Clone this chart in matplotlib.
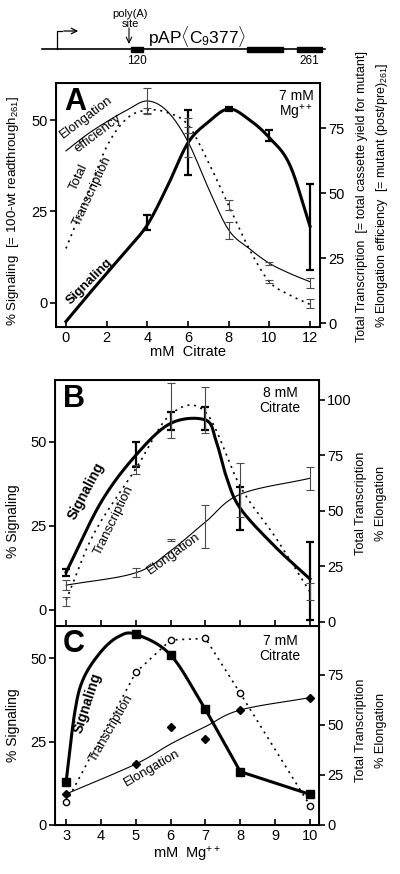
import numpy as np
import matplotlib
matplotlib.use('Agg')
import matplotlib.pyplot as plt
from matplotlib.patches import Rectangle

plt.rcParams['font.family'] = ['Liberation Sans', 'DejaVu Sans']
plt.rcParams['mathtext.fontset'] = 'custom'
plt.rcParams['mathtext.rm'] = 'Liberation Sans'
plt.rcParams['mathtext.it'] = 'Liberation Sans:italic'
plt.rcParams['mathtext.bf'] = 'Liberation Sans:bold'

# ---------------- data ----------------
# Panel A (x = mM citrate, 7 mM Mg++)
citrate = [0, 1, 2, 3, 4, 5, 6, 7, 8, 9, 10, 11, 12]
a_signal = [-5.2, 1.5, 8.0, 14.5, 21.3, 32.0, 43.8, 49.5, 53.1, 50.2, 45.2, 37.8, 20.9]
a_elong = [66.3, 72.4, 77.5, 82.0, 85.5, 81.4, 69.8, 52.0, 35.9, 28.8, 23.1, 19.2, 16.0]
a_trans = [28.8, 48.0, 67.9, 78.8, 82.0, 81.0, 76.3, 62.0, 45.3, 28.8, 16.0, 10.9, 7.3]
a_err_x = [4, 6, 8, 10, 12]
a_signal_lo = [20.0, 35.1, 52.6, 44.2, 9.0]
a_signal_hi = [23.9, 52.7, 53.6, 47.4, 32.5]
a_elong_lo = [80.8, 64.1, 32.4, 22.6, 13.7]
a_elong_hi = [90.6, 75.6, 39.0, 23.6, 17.3]
a_trans_lo = [80.5, 73.0, 43.6, 15.4, 5.8]
a_trans_hi = [82.7, 79.0, 47.4, 16.6, 9.3]

# Panel B (x = mM Mg++, 8 mM citrate)
mg = [3, 5, 6, 7, 8, 10]
b_sig_curve_x = [3, 4, 5, 6, 7, 7.3, 7.6, 8, 9, 10]
b_sig_curve = [11.2, 32.0, 46.0, 55.5, 56.5, 50.5, 39.6, 30.2, 18.8, 9.2]
b_signal = [11.2, 46.0, 55.9, 57.0, 30.2, 9.2]
b_signal_lo = [10.2, 42.6, 53.5, 53.5, 23.8, -3.0]
b_signal_hi = [12.2, 50.0, 58.9, 60.4, 36.6, 20.3]
b_tr_curve_x = [3, 3.8, 5, 6, 7, 8, 9, 10]
b_tr_curve = [9.8, 39.8, 69.0, 93.5, 94.5, 61.0, 38.3, 13.5]
b_trans = [9.2, 68.8, 95.0, 95.5, 13.5]
b_trans_x = [3, 5, 6, 7, 10]
b_trans_lo = [7.1, 66.6, 82.7, 85.0, 9.8]
b_trans_hi = [11.3, 70.7, 107.5, 106.0, 17.3]
b_el_curve = [16.5, 22.1, 32.0, 45.0, 57.5, 64.7]
b_elong = [16.5, 22.1, 36.8, 43.0, 59.4, 64.7]
b_elong_lo = [14.3, 20.0, 36.5, 33.1, 47.4, 59.4]
b_elong_hi = [18.8, 24.1, 37.1, 52.6, 71.4, 69.9]

# Panel C (x = mM Mg++, 7 mM citrate)
c_signal = [13.0, 57.2, 51.0, 34.7, 16.0, 9.2]
c_sig_curve_x = [3, 3.25, 3.5, 4, 4.5, 5, 6, 7]
c_sig_curve = [13.0, 34.0, 44.0, 52.0, 56.5, 57.2, 51.0, 34.7]
c_trans = [11.3, 76.3, 92.5, 93.3, 65.8, 9.7]
c_elong = [15.5, 30.5, 48.8, 42.8, 57.5, 63.7]
c_elong_fit = [15.5, 30.5, 40.5, 49.2, 57.5, 63.7]


def smooth(x, y, n=20):
    P = np.column_stack([np.asarray(x, float), np.asarray(y, float)])
    P = np.vstack([2 * P[0] - P[1], P, 2 * P[-1] - P[-2]])
    out = []
    t = np.linspace(0, 1, n, endpoint=False)[:, None]
    for i in range(1, len(P) - 2):
        p0, p1, p2, p3 = P[i - 1], P[i], P[i + 1], P[i + 2]
        seg = 0.5 * ((2 * p1) + (-p0 + p2) * t + (2 * p0 - 5 * p1 + 4 * p2 - p3) * t ** 2
                     + (-p0 + 3 * p1 - 3 * p2 + p3) * t ** 3)
        out.append(seg)
    out.append(P[-2][None, :])
    pts = np.vstack(out)
    return pts[:, 0], pts[:, 1]


def ebar(ax, x, lo, hi, color='black', lw=1.6, cap=2.8, z=3):
    lo = np.asarray(lo); hi = np.asarray(hi)
    c = (lo + hi) / 2
    ax.errorbar(x, c, yerr=[c - lo, hi - c], fmt='none', ecolor=color,
                elinewidth=lw, capsize=cap, capthick=lw, zorder=z)


THICK = 2.2
THIN = 0.8
DOT = (0, (1.2, 2.8))
GRAY = '#4a4a4a'

fig = plt.figure(figsize=(4.0, 8.74), dpi=100)
H = 874.0


def axrect(l, r, t, b):
    return [l / 400, 1 - b / H, (r - l) / 400, (b - t) / H]


def style(ax, tw):
    for s in ax.spines.values():
        s.set_linewidth(1.4)
    ax.tick_params(axis='x', direction='in', length=4, width=1.2, labelsize=10.5, pad=3)
    ax.tick_params(axis='y', direction='out', length=4, width=1.2, labelsize=10.5, pad=2)
    tw.tick_params(axis='y', direction='out', length=4, width=1.2, labelsize=10.5, pad=2)


# ---------------- schematic ----------------
ax0 = fig.add_axes([0, 1 - 75 / H, 1, 75 / H])
ax0.set_xlim(0, 400)
ax0.set_ylim(75, 0)
ax0.axis('off')
ax0.plot([42, 325], [49, 49], color='black', lw=1.2)
for x0, w in [(131, 12), (247, 36), (297, 25)]:
    ax0.add_patch(Rectangle((x0, 46.6), w, 5.0, color='black'))
ax0.plot([57, 57, 62], [49, 31, 31], color='black', lw=0.9)
ax0.annotate('', xy=(81, 31), xytext=(61, 31),
             arrowprops=dict(arrowstyle='->', lw=0.9, color='black'))
ax0.annotate('', xy=(129, 44), xytext=(129, 28),
             arrowprops=dict(arrowstyle='->', lw=0.8, color='black', shrinkA=0, shrinkB=0))
ax0.text(130, 19, 'poly(A)\nsite', ha='center', va='center', fontsize=8, linespacing=0.95)
ax0.text(137, 55, '120', ha='center', va='top', fontsize=8.5)
ax0.text(309, 55, '261', ha='center', va='top', fontsize=8.5)
ax0.text(197, 36, r'pAP$\langle$C$_9$377$\rangle$', ha='center', va='center', fontsize=12.5)

# ---------------- Panel A ----------------
axA = fig.add_axes(axrect(56, 320, 83, 327))
twA = axA.twinx()
style(axA, twA)
axA.set_xlim(-0.49, 12.49)
axA.set_ylim(-6.7, 60.2)
twA.set_ylim(-1.4, 92.4)
axA.set_xticks([0, 2, 4, 6, 8, 10, 12])
axA.set_yticks([0, 25, 50])
twA.set_yticks([0, 25, 50, 75])

xs, ys = smooth(citrate, a_signal)
axA.plot(xs, ys, color='black', lw=THICK, zorder=4)
ebar(axA, a_err_x, a_signal_lo, a_signal_hi)
xs, ys = smooth(citrate, a_elong)
twA.plot(xs, ys, color='black', lw=THIN)
xs, ys = smooth(citrate, a_trans)
twA.plot(xs, ys, color='black', lw=1.2, linestyle=DOT)
ebar(twA, a_err_x, a_elong_lo, a_elong_hi, color=GRAY, lw=0.8, cap=2.8)
ebar(twA, a_err_x, a_trans_lo, a_trans_hi, color=GRAY, lw=0.8, cap=2.8)

axA.text(0.03, 0.985, 'A', transform=axA.transAxes, fontsize=22, fontweight='bold', va='top', ha='left')
axA.text(0.975, 0.975, '7 mM\nMg$^{++}$', transform=axA.transAxes, fontsize=10, va='top', ha='right',
         linespacing=1.0)
axA.text(1.02, 50.9, 'Elongation', rotation=37, fontsize=9.5, ha='center', va='center')
axA.text(1.55, 46.2, 'efficiency', rotation=37, fontsize=9.5, ha='center', va='center')
axA.text(0.62, 34.5, 'Total', rotation=65, fontsize=9.5, ha='center', va='center')
axA.text(1.30, 30.5, 'Transcription', rotation=65, fontsize=9.5, ha='center', va='center')
axA.text(1.18, 5.8, 'Signaling', rotation=45, fontsize=9.5, fontweight='bold', ha='center', va='center')
axA.set_xlabel('mM  Citrate', fontsize=10.5, labelpad=0)
fig.text(13 / 400, 1 - 211 / H, r'% Signaling  [= 100-wt readthrough$_{261}$]', rotation=90,
         fontsize=9.6, ha='center', va='center')
fig.text(362 / 400, 1 - 196 / H, 'Total Transcription  [= total cassette yield for mutant]',
         rotation=90, fontsize=9.0, ha='center', va='center')
fig.text(382 / 400, 1 - 195 / H, r'% Elongation efficiency  [= mutant (post/pre)$_{261}$]',
         rotation=90, fontsize=9.0, ha='center', va='center')

# ---------------- Panel B ----------------
axB = fig.add_axes(axrect(55, 319, 380, 626))
twB = axB.twinx()
style(axB, twB)
axB.set_xlim(2.68, 10.26)
axB.set_ylim(-4.8, 68.4)
twB.set_ylim(-1.9, 109)
axB.set_xticks([3, 4, 5, 6, 7, 8, 9, 10])
axB.set_xticklabels([])
axB.set_yticks([0, 25, 50])
twB.set_yticks([0, 25, 50, 75, 100])

xs, ys = smooth(b_sig_curve_x, b_sig_curve)
axB.plot(xs, ys, color='black', lw=THICK, zorder=4)
ebar(axB, mg, b_signal_lo, b_signal_hi)
xs, ys = smooth(b_tr_curve_x, b_tr_curve)
twB.plot(xs, ys, color='black', lw=1.2, linestyle=DOT)
xs, ys = smooth(mg, b_el_curve)
twB.plot(xs, ys, color='black', lw=THIN)
ebar(twB, b_trans_x, b_trans_lo, b_trans_hi, color=GRAY, lw=0.8, cap=2.8)
ebar(twB, mg, b_elong_lo, b_elong_hi, color=GRAY, lw=0.8, cap=2.8)

axB.text(0.03, 0.985, 'B', transform=axB.transAxes, fontsize=22, fontweight='bold', va='top', ha='left')
axB.text(0.93, 0.975, '8 mM\nCitrate', transform=axB.transAxes, fontsize=10, va='top', ha='right',
         linespacing=1.05, multialignment='center')
axB.text(3.58, 35.5, 'Signaling', rotation=62, fontsize=10, fontweight='bold', ha='center', va='center')
axB.text(4.36, 26.7, 'Transcription', rotation=64, fontsize=9.5, ha='center', va='center',
         bbox=dict(facecolor='white', edgecolor='none', pad=0.3))
axB.text(6.08, 16.8, 'Elongation', rotation=36, fontsize=9.5, ha='center', va='center',
         bbox=dict(facecolor='white', edgecolor='none', pad=0.5))
fig.text(13 / 400, 1 - 521 / H, '% Signaling', rotation=90, fontsize=10, ha='center', va='center')
fig.text(361 / 400, 1 - 503 / H, 'Total Transcription', rotation=90, fontsize=9.2, ha='center', va='center')
fig.text(381 / 400, 1 - 503 / H, '% Elongation', rotation=90, fontsize=9.2, ha='center', va='center')

# ---------------- Panel C ----------------
axC = fig.add_axes(axrect(55, 319, 626, 825))
twC = axC.twinx()
style(axC, twC)
axC.set_xlim(2.68, 10.26)
axC.set_ylim(0, 59.7)
twC.set_ylim(0, 99.5)
axC.set_xticks([3, 4, 5, 6, 7, 8, 9, 10])
axC.set_yticks([0, 25, 50])
twC.set_yticks([0, 25, 50, 75])

xs, ys = smooth(c_sig_curve_x, c_sig_curve)
axC.plot(xs, ys, color='black', lw=THICK, zorder=4)
axC.plot(mg[3:], c_signal[3:], color='black', lw=THICK, zorder=4)
axC.plot(mg, c_signal, linestyle='none', marker='s', ms=6, color='black', zorder=5)
twC.plot(mg, c_trans, color='black', lw=1.2, linestyle=DOT, zorder=2)
twC.plot(mg, c_trans, linestyle='none', marker='o', ms=4.5, mfc='white', mec='black', mew=1.0, zorder=5)
xs, ys = smooth(mg, c_elong_fit)
twC.plot(xs, ys, color='black', lw=THIN)
twC.plot(mg, c_elong, linestyle='none', marker='D', ms=4.5, color='black', zorder=5)

axC.text(0.03, 0.985, 'C', transform=axC.transAxes, fontsize=22, fontweight='bold', va='top', ha='left')
axC.text(0.93, 0.96, '7 mM\nCitrate', transform=axC.transAxes, fontsize=10, va='top', ha='right',
         linespacing=1.05, multialignment='center')
axC.text(3.62, 36.5, 'Signaling', rotation=72, fontsize=10, fontweight='bold', ha='center', va='center')
axC.text(4.3, 29, 'Transcription', rotation=60, fontsize=9.5, ha='center', va='center')
axC.text(5.46, 17.0, 'Elongation', rotation=30, fontsize=9.5, ha='center', va='center')
axC.set_xlabel('mM  Mg$^{++}$', fontsize=10.5, labelpad=1)
fig.text(13 / 400, 1 - 725 / H, '% Signaling', rotation=90, fontsize=10, ha='center', va='center')
fig.text(361 / 400, 1 - 730 / H, 'Total Transcription', rotation=90, fontsize=9.2, ha='center', va='center')
fig.text(381 / 400, 1 - 730 / H, '% Elongation', rotation=90, fontsize=9.2, ha='center', va='center')

fig.savefig('out.png', dpi=100)
